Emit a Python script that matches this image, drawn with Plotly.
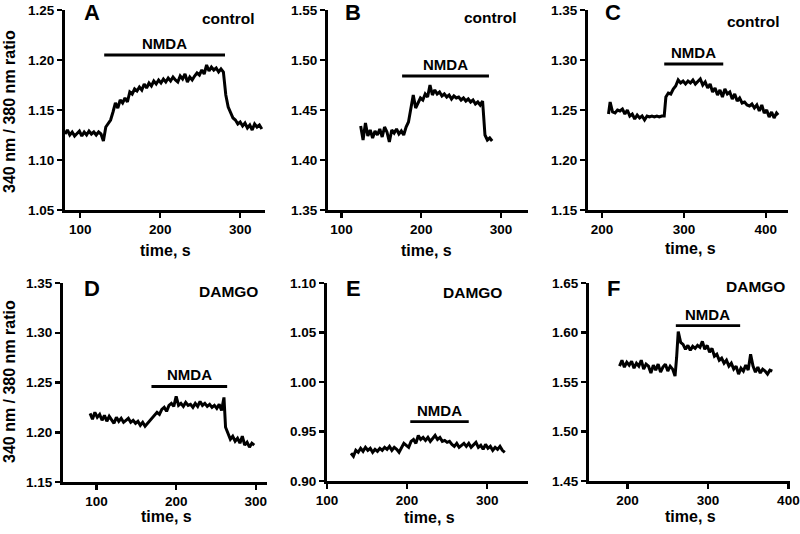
import plotly.graph_objects as go

# ---------------- data ----------------
t_A = [81, 84, 87, 90, 93, 96, 99, 102, 105, 108, 111, 114, 117, 120, 123, 126, 129, 132, 135, 138,
       141, 144, 147, 150, 153, 156, 159, 162, 165, 168, 171, 174, 177, 180, 183, 186, 189, 192, 195, 198,
       201, 204, 207, 210, 213, 216, 219, 222, 225, 228, 231, 234, 237, 240, 243, 246, 249, 252, 255, 258,
       261, 264, 267, 270, 273, 276, 279, 282, 285, 288, 291, 294, 297, 300, 303, 306, 309, 312, 315, 318,
       321, 324, 327]
r_A = [1.126, 1.130, 1.125, 1.128, 1.124, 1.127, 1.129, 1.124, 1.128, 1.125, 1.129, 1.126, 1.128, 1.125, 1.128, 1.126,
       1.119, 1.133, 1.136, 1.140, 1.148, 1.157, 1.152, 1.160, 1.157, 1.162, 1.158, 1.168, 1.166, 1.171, 1.169, 1.173,
       1.170, 1.176, 1.172, 1.177, 1.174, 1.179, 1.176, 1.180, 1.177, 1.181, 1.178, 1.182, 1.179, 1.183, 1.180, 1.178,
       1.184, 1.181, 1.186, 1.178, 1.183, 1.180, 1.184, 1.187, 1.185, 1.190, 1.186, 1.195, 1.189, 1.193, 1.190, 1.192,
       1.188, 1.191, 1.188, 1.165, 1.153, 1.148, 1.142, 1.140, 1.136, 1.138, 1.134, 1.137, 1.132, 1.135, 1.130, 1.136,
       1.133, 1.135, 1.131]

t_B = [124, 127, 130, 133, 136, 139, 142, 145, 148, 151, 154, 157, 160, 163, 166, 169, 172, 175, 178, 181,
       184, 187, 190, 193, 196, 199, 202, 205, 208, 211, 214, 217, 220, 223, 226, 229, 232, 235, 238, 241,
       244, 247, 250, 253, 256, 259, 262, 265, 268, 271, 274, 277, 280, 283, 286, 289]
r_B = [1.434, 1.420, 1.437, 1.424, 1.430, 1.422, 1.429, 1.425, 1.431, 1.423, 1.433, 1.428, 1.418, 1.430, 1.427, 1.431,
       1.426, 1.429, 1.425, 1.433, 1.438, 1.450, 1.465, 1.452, 1.458, 1.462, 1.460, 1.466, 1.463, 1.475, 1.465, 1.470,
       1.466, 1.468, 1.464, 1.466, 1.463, 1.465, 1.461, 1.464, 1.462, 1.463, 1.460, 1.462, 1.459, 1.461, 1.458, 1.460,
       1.456, 1.458, 1.455, 1.459, 1.425, 1.420, 1.422, 1.419]

t_C = [208, 210, 213, 216, 219, 222, 225, 228, 231, 234, 237, 240, 243, 246, 249, 252, 255, 258, 261, 264,
       267, 270, 273, 276, 278, 281, 284, 287, 290, 293, 296, 299, 302, 305, 308, 311, 314, 317, 320, 323,
       326, 329, 332, 335, 338, 341, 344, 347, 350, 353, 356, 359, 362, 365, 368, 371, 374, 377, 380, 383,
       386, 389, 392, 395, 398, 401, 404, 407, 410, 413, 415]
r_C = [1.246, 1.258, 1.248, 1.247, 1.250, 1.249, 1.251, 1.246, 1.250, 1.244, 1.246, 1.241, 1.245, 1.242, 1.244, 1.240,
       1.244, 1.243, 1.244, 1.243, 1.244, 1.243, 1.244, 1.244, 1.263, 1.267, 1.266, 1.271, 1.274, 1.280, 1.277, 1.279,
       1.276, 1.279, 1.277, 1.280, 1.276, 1.279, 1.281, 1.275, 1.278, 1.272, 1.276, 1.268, 1.272, 1.265, 1.270, 1.263,
       1.271, 1.266, 1.268, 1.261, 1.266, 1.259, 1.262, 1.257, 1.258, 1.255, 1.254, 1.256, 1.252, 1.255, 1.249, 1.255,
       1.247, 1.250, 1.243, 1.248, 1.242, 1.247, 1.245]

t_D = [92, 95, 98, 101, 104, 107, 110, 113, 116, 119, 122, 125, 128, 131, 134, 137, 140, 143, 146, 149,
       152, 155, 158, 161, 164, 167, 170, 173, 176, 179, 182, 185, 188, 191, 194, 197, 200, 203, 206, 209,
       212, 215, 218, 221, 224, 227, 230, 233, 236, 239, 242, 245, 248, 251, 254, 257, 260, 262, 265, 268,
       271, 274, 277, 280, 283, 286, 289, 292, 295, 298]
r_D = [1.219, 1.213, 1.220, 1.215, 1.218, 1.212, 1.217, 1.211, 1.216, 1.213, 1.209, 1.215, 1.211, 1.214, 1.210, 1.212,
       1.214, 1.210, 1.212, 1.209, 1.211, 1.207, 1.210, 1.206, 1.209, 1.211, 1.215, 1.217, 1.220, 1.218, 1.223, 1.225,
       1.221, 1.227, 1.229, 1.226, 1.236, 1.227, 1.229, 1.226, 1.230, 1.227, 1.228, 1.225, 1.229, 1.226, 1.231, 1.227,
       1.229, 1.226, 1.228, 1.225, 1.227, 1.224, 1.228, 1.222, 1.235, 1.205, 1.198, 1.193, 1.196, 1.191, 1.194, 1.189,
       1.196, 1.187, 1.190, 1.185, 1.189, 1.187]

t_E = [130, 133, 136, 139, 142, 145, 148, 151, 154, 157, 160, 163, 166, 169, 172, 175, 178, 181, 184, 187,
       190, 193, 196, 199, 202, 205, 208, 211, 214, 217, 220, 223, 226, 229, 232, 235, 238, 241, 244, 247,
       250, 253, 256, 259, 262, 265, 268, 271, 274, 277, 280, 283, 286, 289, 292, 295, 298, 301, 304, 307,
       310, 313, 316, 319, 322]
r_E = [0.928, 0.925, 0.931, 0.929, 0.933, 0.930, 0.934, 0.931, 0.933, 0.929, 0.932, 0.930, 0.933, 0.931, 0.934, 0.932,
       0.935, 0.931, 0.934, 0.932, 0.929, 0.934, 0.938, 0.936, 0.934, 0.940, 0.942, 0.938, 0.946, 0.942, 0.944, 0.941,
       0.944, 0.940, 0.943, 0.946, 0.942, 0.944, 0.940, 0.941, 0.939, 0.940, 0.937, 0.935, 0.938, 0.934, 0.936, 0.938,
       0.935, 0.938, 0.934, 0.937, 0.939, 0.934, 0.936, 0.932, 0.937, 0.933, 0.935, 0.931, 0.934, 0.932, 0.935, 0.931,
       0.929]

t_F = [190, 193, 196, 199, 202, 205, 208, 211, 214, 217, 220, 223, 226, 229, 232, 235, 238, 241, 244, 247,
       250, 253, 256, 259, 261, 263, 266, 269, 272, 275, 278, 281, 284, 287, 290, 293, 296, 299, 302, 305,
       308, 311, 314, 317, 320, 323, 326, 329, 332, 335, 338, 341, 344, 347, 350, 353, 356, 359, 362, 365,
       368, 371, 374, 377, 380]
r_F = [1.566, 1.572, 1.565, 1.570, 1.567, 1.571, 1.564, 1.569, 1.566, 1.572, 1.563, 1.568, 1.566, 1.559, 1.567, 1.562,
       1.568, 1.560, 1.565, 1.568, 1.561, 1.566, 1.563, 1.556, 1.575, 1.601, 1.590, 1.588, 1.583, 1.587, 1.582, 1.586,
       1.584, 1.587, 1.585, 1.591, 1.583, 1.587, 1.580, 1.584, 1.576, 1.578, 1.572, 1.574, 1.569, 1.572, 1.566, 1.569,
       1.563, 1.566, 1.558, 1.564, 1.561, 1.567, 1.562, 1.578, 1.566, 1.560, 1.565, 1.559, 1.563, 1.561, 1.558, 1.562,
       1.561]

panel_letters = ["A", "B", "C", "D", "E", "F"]
conditions = ["control", "control", "control", "DAMGO", "DAMGO", "DAMGO"]
times = [t_A, t_B, t_C, t_D, t_E, t_F]
ratios = [r_A, r_B, r_C, r_D, r_E, r_F]

nmda_start = [130, 176, 276, 169, 204, 260]
nmda_end = [281, 285, 348, 264, 277, 340]
nmda_level = [1.205, 1.484, 1.296, 1.246, 0.960, 1.607]

x_ranges = [[81, 331], [83, 334], [183, 427], [58, 314], [100, 351], [152, 402]]
x_ticks = [[100, 200, 300], [100, 200, 300], [200, 300, 400],
           [100, 200, 300], [100, 200, 300], [200, 300, 400]]
y_ranges = [[1.05, 1.25], [1.35, 1.55], [1.15, 1.35], [1.15, 1.35], [0.90, 1.10], [1.45, 1.65]]

x_label = "time, s"
y_label = "340 nm / 380 nm ratio"

# ---------------- layout geometry (pixels) ----------------
W, H = 800, 534
px_x = [(65, 265), (328, 528), (588, 788), (63, 267), (327, 528), (589, 790)]
px_y = [(10, 210), (10, 210), (10, 210), (283, 482), (283, 481), (283, 481)]
letter_pos = [(0.085, 0.9875), (0.073, 0.99), (0.075, 0.99), (0.092, 0.97), (0.085, 0.97), (0.08, 0.97)]
cond_pos = [(0.96, 0.96), (0.955, 0.965), (0.968, 0.945), (0.966, 0.956), (0.88, 0.95), (0.983, 0.98)]
xtitle_pos = [(165, 250), (426, 250), (690, 249), (166, 516), (429, 517), (690, 516)]
ytitle_pos = [(9, 112), (9, 382)]

FONT = "Liberation Sans, Arial, sans-serif"

fig = go.Figure()
annotations = []
for i in range(6):
    n = i + 1
    xa = "x" if n == 1 else f"x{n}"
    ya = "y" if n == 1 else f"y{n}"
    fig.add_trace(go.Scatter(x=times[i], y=ratios[i], mode="lines",
                             line=dict(color="black", width=3), xaxis=xa, yaxis=ya,
                             showlegend=False, hoverinfo="skip"))
    fig.add_trace(go.Scatter(x=[nmda_start[i], nmda_end[i]], y=[nmda_level[i], nmda_level[i]],
                             mode="lines", line=dict(color="black", width=2.8),
                             xaxis=xa, yaxis=ya, showlegend=False, hoverinfo="skip"))
    axis_common = dict(showline=True, linecolor="black", linewidth=3, ticks="outside",
                       ticklen=5, tickwidth=2.5, tickcolor="black", showgrid=False, zeroline=False,
                       automargin=False, fixedrange=True,
                       tickfont=dict(family=FONT, size=13.5, color="black", weight="bold"))
    x0, x1 = px_x[i]
    y0, y1 = px_y[i]
    fig.layout[f"xaxis{'' if n == 1 else n}"] = dict(
        domain=[x0 / W, x1 / W], range=x_ranges[i], tickvals=x_ticks[i], anchor=ya, **axis_common)
    fig.layout[f"yaxis{'' if n == 1 else n}"] = dict(
        domain=[1 - y1 / H, 1 - y0 / H], range=y_ranges[i],
        tickvals=[y_ranges[i][0] + k * 0.05 for k in range(5)], tickformat=".2f",
        anchor=xa, **axis_common)
    # NMDA label
    annotations.append(dict(x=(nmda_start[i] + nmda_end[i]) / 2, y=nmda_level[i], xref=xa, yref=ya,
                            text="NMDA", showarrow=False, yanchor="bottom", yshift=1,
                            font=dict(family=FONT, size=15, color="black", weight="bold")))
    # panel letter
    annotations.append(dict(x=letter_pos[i][0], y=letter_pos[i][1], xref=f"{xa} domain", yref=f"{ya} domain",
                            text=panel_letters[i], showarrow=False, xanchor="left", yanchor="middle",
                            font=dict(family=FONT, size=22, color="black", weight="bold")))
    # condition
    annotations.append(dict(x=cond_pos[i][0], y=cond_pos[i][1], xref=f"{xa} domain", yref=f"{ya} domain",
                            text=conditions[i], showarrow=False, xanchor="right", yanchor="middle",
                            font=dict(family=FONT, size=15.5, color="black", weight="bold")))
    # x title
    annotations.append(dict(x=xtitle_pos[i][0] / W, y=1 - xtitle_pos[i][1] / H, xref="paper", yref="paper",
                            text=x_label, showarrow=False, xanchor="center", yanchor="middle",
                            font=dict(family=FONT, size=16, color="black", weight="bold")))

for (xp, yp) in ytitle_pos:
    annotations.append(dict(x=xp / W, y=1 - yp / H, xref="paper", yref="paper", text=y_label,
                            showarrow=False, textangle=-90, xanchor="center", yanchor="middle",
                            font=dict(family=FONT, size=16, color="black", weight="bold")))

fig.update_layout(width=W, height=H, margin=dict(l=0, r=0, t=0, b=0, autoexpand=False),
                  paper_bgcolor="white", plot_bgcolor="white", annotations=annotations,
                  hovermode=False)

fig.write_html("out.html", config={"displayModeBar": False, "staticPlot": True},
               post_script="document.body.style.margin='0px'; document.body.style.overflow='hidden';")
